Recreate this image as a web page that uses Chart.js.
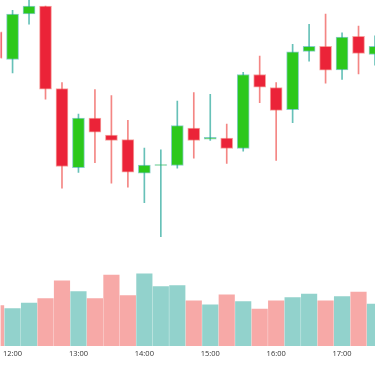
<!DOCTYPE html>
<html>
<head>
<meta charset="utf-8">
<script src="https://cdn.jsdelivr.net/npm/chart.js@4.4.1/dist/chart.umd.min.js"></script>
<style>
  html, body { margin: 0; padding: 0; background: #fff; }
  #wrap { width: 375px; height: 366px; }
</style>
</head>
<body>
<div id="wrap"><canvas id="chart" width="375" height="366"></canvas></div>
<script>
// 15 minute candles
const times = ['11:45', '12:00', '12:15', '12:30', '12:45', '13:00', '13:15', '13:30',
    '13:45', '14:00', '14:15', '14:30', '14:45', '15:00', '15:15', '15:30',
    '15:45', '16:00', '16:15', '16:30', '16:45', '17:00', '17:15', '17:30'];
const opens  = [126.83, 124.07, 128.60, 129.40, 121.17, 113.27, 118.23, 116.53,
    116.07, 112.73, 113.50, 113.50, 117.23, 116.13, 116.23, 115.20,
    122.57, 121.27, 119.07, 124.87, 125.37, 123.03, 126.37, 124.57];
const highs  = [127.20, 128.97, 130.40, 129.40, 121.77, 118.63, 121.07, 120.47,
    118.00, 115.23, 115.07, 119.93, 120.77, 120.60, 117.63, 122.80,
    124.40, 121.77, 125.57, 127.57, 128.60, 126.73, 127.40, 126.43];
const lows   = [123.80, 122.73, 127.60, 120.10, 111.23, 112.80, 113.77, 111.73,
    111.33, 109.80, 106.40, 113.23, 114.23, 116.00, 113.70, 114.93,
    119.77, 114.00, 117.77, 123.90, 121.70, 122.07, 122.63, 123.50];
const closes = [124.17, 128.60, 129.40, 121.10, 113.40, 118.23, 116.83, 116.00,
    112.83, 113.53, 113.60, 117.47, 116.00, 116.30, 115.20, 122.57,
    121.30, 119.00, 124.83, 125.37, 123.00, 126.30, 124.67, 125.37];
const volumes = [4030, 3730, 4270, 4730, 6500, 5430, 4730, 7070,
    5030, 7200, 5930, 6030, 4500, 4100, 5100, 4430,
    3670, 4500, 4830, 5170, 4500, 4930, 5370, 4170];
const tickLabels = ['12:00', '13:00', '14:00', '15:00', '16:00', '17:00'];

const toMin = s => { const [h, m] = s.split(':').map(Number); return h * 60 + m; };
const fmt = v => String(Math.floor(v / 60)).padStart(2, '0') + ':' + String(v % 60).padStart(2, '0');

const xs = times.map(toMin);
const up = opens.map((o, i) => closes[i] >= o);

const bodyUp = '#2cc81c', bodyDown = '#eb2338';
const edgeUp = 'rgba(38,166,154,0.55)', edgeDown = 'rgba(239,83,80,0.55)';
const wickUp = 'rgba(38,166,154,0.7)', wickDown = 'rgba(239,83,80,0.7)';
const volUp = 'rgba(38,166,154,0.5)', volDown = 'rgba(239,83,80,0.5)';

const ctx = document.getElementById('chart').getContext('2d');
new Chart(ctx, {
    type: 'bar',
    data: {
        datasets: [
            {
                // candle bodies
                data: xs.map((x, i) => ({ x: x, y: [opens[i], closes[i]] })),
                backgroundColor: up.map(u => u ? bodyUp : bodyDown),
                borderColor: up.map(u => u ? edgeUp : edgeDown),
                borderWidth: 1,
                borderSkipped: false,
                barThickness: 12,
                grouped: false,
                order: 0
            },
            {
                // wicks
                data: xs.map((x, i) => ({ x: x, y: [lows[i], highs[i]] })),
                backgroundColor: up.map(u => u ? wickUp : wickDown),
                borderWidth: 0,
                barThickness: 1,
                grouped: false,
                order: 1
            },
            {
                data: xs.map((x, i) => ({ x: x, y: volumes[i] })),
                backgroundColor: up.map(u => u ? volUp : volDown),
                borderWidth: 0,
                barThickness: 15.5,
                grouped: false,
                yAxisID: 'vol',
                order: 2
            }
        ]
    },
    options: {
        responsive: false,
        animation: false,
        layout: { padding: { left: 0, right: 0, top: 0, bottom: 5 } },
        plugins: { legend: { display: false }, tooltip: { enabled: false } },
        scales: {
            x: {
                type: 'linear',
                min: 709.1,
                max: 1050,
                offset: false,
                grid: { display: false, drawTicks: false },
                border: { display: false },
                afterBuildTicks: scale => {
                    scale.ticks = tickLabels.map(t => ({ value: toMin(t) }));
                },
                ticks: {
                    padding: 3,
                    maxRotation: 0,
                    autoSkip: false,
                    color: '#333',
                    font: { family: '"Open Sans", sans-serif', size: 7.5 },
                    callback: v => fmt(v)
                }
            },
            y: {
                display: false,
                min: 95.5,
                max: 130
            },
            vol: {
                display: false,
                min: 0,
                max: 34500
            }
        }
    }
});
</script>
</body>
</html>
